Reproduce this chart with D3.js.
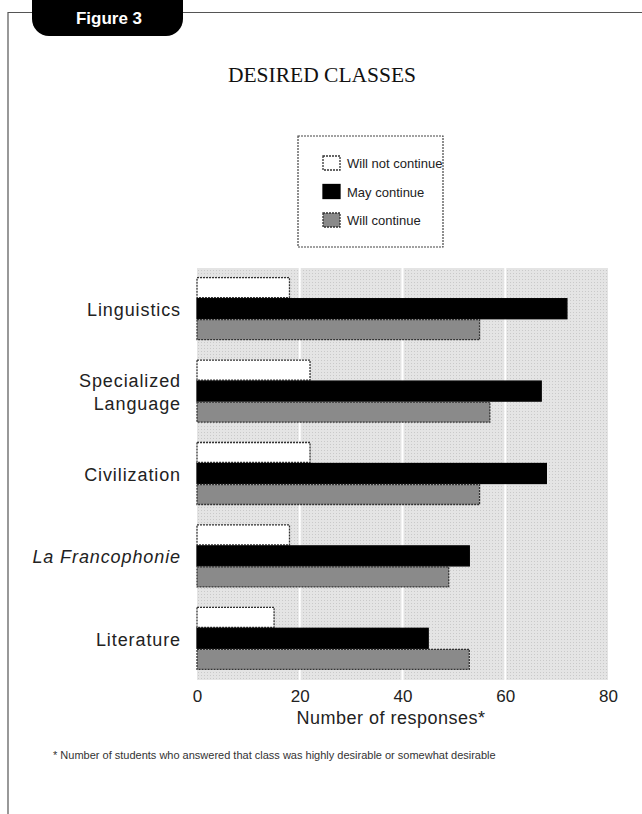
<!DOCTYPE html>
<html>
<head>
<meta charset="utf-8">
<script src="https://cdn.jsdelivr.net/npm/d3@7"></script>
<style>
  html, body { margin: 0; padding: 0; background: #fff; }
  svg { display: block; }
  .narrow { font-family: "Liberation Sans Narrow", "Arial Narrow", "Liberation Sans", sans-serif; }
</style>
</head>
<body>
<svg id="chart" width="642" height="814"></svg>
<script>
// Data
const categories = ["Linguistics", "Specialized Language", "Civilization", "La Francophonie", "Literature"];
const seriesNames = ["Will not continue", "May continue", "Will continue"];
const willNotContinue = [18, 22, 22, 18, 15];
const mayContinue = [72, 67, 68, 53, 45];
const willContinue = [55, 57, 55, 49, 53];
const xTicks = [0, 20, 40, 60, 80];

const seriesValues = [willNotContinue, mayContinue, willContinue];
const seriesFill = ["#ffffff", "#000000", "#8a8a8a"];
const seriesStroke = ["#333", "#000", "#333"];

const svg = d3.select("#chart");

// Frame + tab
svg.append("path")
  .attr("d", "M8,814 V12.5 H642")
  .attr("fill", "none")
  .attr("stroke", "#555")
  .attr("stroke-width", 1.2);

svg.append("rect")
  .attr("x", 32).attr("y", -20)
  .attr("width", 151).attr("height", 56)
  .attr("rx", 17).attr("ry", 17)
  .attr("fill", "#000");

svg.append("text")
  .attr("x", 109).attr("y", 24)
  .attr("text-anchor", "middle")
  .style("font-family", "Liberation Sans, Arial, sans-serif")
  .style("font-weight", "bold")
  .style("font-size", "17px")
  .attr("fill", "#fff")
  .text("Figure 3");

// Title
svg.append("text")
  .attr("x", 322).attr("y", 82)
  .attr("text-anchor", "middle")
  .style("font-family", "Liberation Serif, 'DejaVu Serif', serif")
  .style("font-size", "21.5px")
  .attr("fill", "#111")
  .text("DESIRED CLASSES");

// Scales
const plotLeft = 197, plotRight = 608, plotTop = 268, plotBottom = 680;

const x = d3.scaleLinear().domain([0, 80]).range([plotLeft, plotRight]);
const y = d3.scaleBand()
  .domain(categories)
  .range([plotTop, plotBottom])
  .paddingInner(0.235)
  .paddingOuter(0.1175);
const ySub = d3.scaleBand().domain(seriesNames).range([0, y.bandwidth()]);

// Stipple background
const defs = svg.append("defs");
const pat = defs.append("pattern")
  .attr("id", "stipple")
  .attr("width", 3).attr("height", 3)
  .attr("patternUnits", "userSpaceOnUse");
pat.append("rect").attr("width", 3).attr("height", 3).attr("fill", "#e4e4e4");
pat.append("rect").attr("width", 1).attr("height", 1).attr("fill", "#c9c9c9");

svg.append("rect")
  .attr("x", plotLeft).attr("y", plotTop)
  .attr("width", plotRight - plotLeft).attr("height", plotBottom - plotTop)
  .attr("fill", "url(#stipple)");

// Grid lines
svg.append("g")
  .selectAll("line")
  .data(xTicks.filter((d) => d > 0 && d < 80))
  .join("line")
  .attr("x1", (d) => x(d)).attr("x2", (d) => x(d))
  .attr("y1", plotTop).attr("y2", plotBottom)
  .attr("stroke", "#fff")
  .attr("stroke-width", 2);

// Bars
const groups = svg.append("g")
  .selectAll("g")
  .data(categories)
  .join("g")
  .attr("transform", (d) => `translate(0,${y(d)})`);

groups.selectAll("rect")
  .data((c, ci) => seriesNames.map((s, si) => ({ series: s, si: si, value: seriesValues[si][ci] })))
  .join("rect")
  .attr("x", x(0))
  .attr("y", (d) => ySub(d.series))
  .attr("width", (d) => x(d.value) - x(0))
  .attr("height", ySub.bandwidth() - 1)
  .attr("fill", (d) => seriesFill[d.si])
  .attr("stroke", (d) => seriesStroke[d.si])
  .attr("stroke-width", 1.3)
  .attr("stroke-dasharray", (d) => (d.si === 1 ? null : "2,1"));

// Category labels
const labelLines = {
  "Specialized Language": ["Specialized", "Language"],
};
categories.forEach((c) => {
  const lines = labelLines[c] || [c];
  const cy = y(c) + y.bandwidth() / 2;
  const t = svg.append("text")
    .attr("class", "narrow")
    .attr("text-anchor", "end")
    .style("font-size", "18px")
    .style("letter-spacing", "0.9px")
    .style("font-style", c === "La Francophonie" ? "italic" : "normal")
    .attr("fill", "#222");
  lines.forEach((l, i) => {
    t.append("tspan")
      .attr("x", 181)
      .attr("y", cy + 7 + (i - (lines.length - 1) / 2) * 23)
      .text(l);
  });
});

// X axis
const xAxis = d3.axisBottom(x).tickValues(xTicks).tickSize(0).tickPadding(10);
const axisG = svg.append("g")
  .attr("transform", `translate(0,${plotBottom})`)
  .call(xAxis);
axisG.select(".domain").remove();
axisG.selectAll("text")
  .attr("class", "narrow")
  .style("font-size", "17px")
  .attr("fill", "#222");

// Axis title
svg.append("text")
  .attr("class", "narrow")
  .attr("x", 391).attr("y", 724)
  .attr("text-anchor", "middle")
  .style("font-size", "18px")
  .style("letter-spacing", "0.5px")
  .attr("fill", "#222")
  .text("Number of responses*");

// Footnote
svg.append("text")
  .attr("class", "narrow")
  .attr("x", 53).attr("y", 759)
  .style("font-size", "11px")
  .attr("fill", "#333")
  .text("* Number of students who answered that class was highly desirable or somewhat desirable");

// Legend
const legend = svg.append("g").attr("transform", "translate(298,136)");
legend.append("rect")
  .attr("width", 145).attr("height", 111)
  .attr("fill", "#fff")
  .attr("stroke", "#444")
  .attr("stroke-width", 1.2)
  .attr("stroke-dasharray", "2,1");

const legendItems = legend.selectAll(".legend-item")
  .data(seriesNames)
  .join("g")
  .attr("class", "legend-item")
  .attr("transform", (d, i) => `translate(25,${20 + i * 28.5})`);

legendItems.append("rect")
  .attr("width", 17).attr("height", 14)
  .attr("fill", (d, i) => seriesFill[i])
  .attr("stroke", (d, i) => seriesStroke[i])
  .attr("stroke-width", 1.3)
  .attr("stroke-dasharray", (d, i) => (i === 1 ? null : "2,1"));

legendItems.append("text")
  .attr("class", "narrow")
  .attr("x", 24).attr("y", 12)
  .style("font-size", "13px")
  .attr("fill", "#222")
  .text((d) => d);
</script>
</body>
</html>
